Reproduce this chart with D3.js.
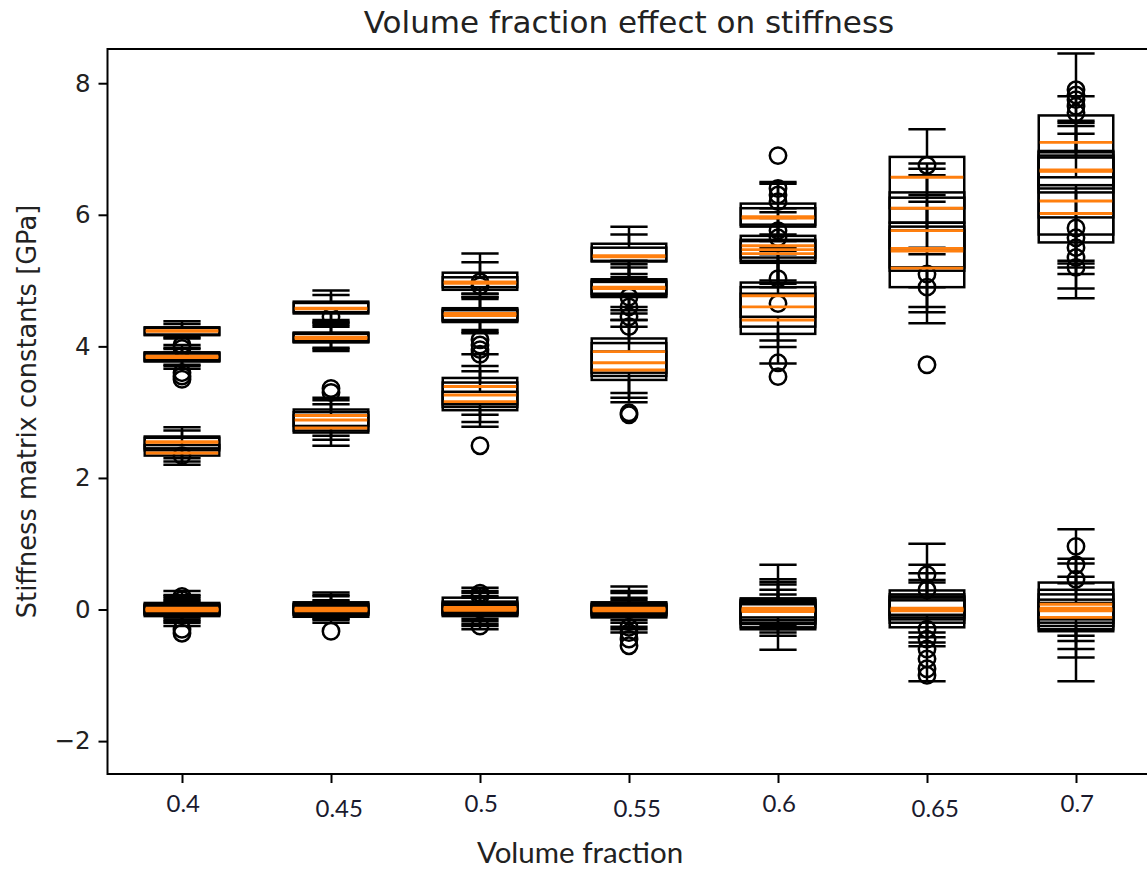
<!DOCTYPE html>
<html>
<head>
<meta charset="utf-8">
<script src="https://cdn.jsdelivr.net/npm/d3@7"></script>
<style>
  body { margin: 0; background: #fff; }
  svg { display: block; }
</style>
</head>
<body>
<div id="chart"></div>
<script>
// tick labels
var vfLabels = ["0.4", "0.45", "0.5", "0.55", "0.6", "0.65", "0.7"];
var yTicks = [-2, 0, 2, 4, 6, 8];

// each box: [whisker low, q1, median, q3, whisker high], values in GPa
var boxes040 = [
  [4.14, 4.17, 4.23, 4.29, 4.38], [4.12, 4.18, 4.24, 4.28, 4.34],
  [3.66, 3.77, 3.83, 3.90, 3.98], [3.70, 3.78, 3.85, 3.91, 4.02], [3.72, 3.79, 3.84, 3.89, 3.96],
  [2.30, 2.45, 2.55, 2.63, 2.77], [2.25, 2.42, 2.54, 2.61, 2.72], [2.20, 2.34, 2.38, 2.50, 2.62],
  [-0.25, -0.10, 0.00, 0.10, 0.28], [-0.15, -0.06, 0.01, 0.06, 0.17], [-0.20, -0.08, -0.01, 0.08, 0.22],
  [-0.12, -0.04, 0.00, 0.04, 0.12], [-0.18, -0.07, 0.02, 0.07, 0.20], [-0.10, -0.05, -0.02, 0.05, 0.14]
];
var fliers040 = [4.02, 3.97, 3.60, 3.55, 3.50, 2.34, 0.20, 0.15, -0.30, -0.36];

var boxes045 = [
  [4.37, 4.50, 4.57, 4.68, 4.85], [4.40, 4.52, 4.58, 4.66, 4.78],
  [3.93, 4.06, 4.13, 4.21, 4.36], [3.96, 4.07, 4.12, 4.19, 4.30], [3.98, 4.08, 4.14, 4.20, 4.33],
  [2.64, 2.79, 2.95, 3.04, 3.22], [2.49, 2.69, 2.76, 2.95, 3.12], [2.58, 2.72, 2.88, 3.00, 3.18],
  [-0.20, -0.11, 0.00, 0.11, 0.26], [-0.16, -0.07, 0.02, 0.08, 0.20], [-0.12, -0.05, -0.01, 0.06, 0.14],
  [-0.14, -0.08, 0.01, 0.09, 0.22], [-0.10, -0.04, -0.02, 0.05, 0.12]
];
var fliers045 = [4.45, 3.36, 3.30, -0.33];

var boxes050 = [
  [4.75, 4.86, 4.98, 5.12, 5.41], [4.80, 4.90, 4.96, 5.05, 5.28],
  [4.20, 4.37, 4.49, 4.58, 4.80], [4.25, 4.40, 4.50, 4.56, 4.75], [4.22, 4.39, 4.47, 4.55, 4.72],
  [2.78, 3.03, 3.16, 3.31, 3.62], [2.96, 3.12, 3.39, 3.52, 3.88], [2.85, 3.08, 3.26, 3.45, 3.70],
  [-0.30, -0.10, 0.02, 0.18, 0.33], [-0.25, -0.08, 0.00, 0.10, 0.25], [-0.18, -0.05, 0.01, 0.06, 0.20],
  [-0.22, -0.07, -0.01, 0.12, 0.28], [-0.14, -0.04, 0.03, 0.08, 0.18]
];
var fliers050 = [4.98, 4.92, 4.10, 4.02, 3.95, 3.88, 2.49, 0.25, 0.20, -0.25];

var boxes055 = [
  [5.05, 5.29, 5.38, 5.56, 5.82], [5.10, 5.30, 5.36, 5.50, 5.70],
  [4.55, 4.75, 4.89, 5.02, 5.30], [4.40, 4.77, 4.88, 4.98, 5.25], [4.60, 4.80, 4.90, 5.00, 5.20],
  [3.15, 3.49, 3.64, 3.92, 4.30], [3.22, 3.55, 3.75, 4.05, 4.40], [3.29, 3.60, 3.92, 4.12, 4.50],
  [-0.35, -0.12, -0.01, 0.11, 0.35], [-0.30, -0.08, 0.00, 0.08, 0.25], [-0.20, -0.05, 0.01, 0.05, 0.18],
  [-0.26, -0.10, 0.02, 0.09, 0.28], [-0.16, -0.06, -0.02, 0.06, 0.15]
];
var fliers055 = [4.75, 4.60, 4.45, 4.30, 2.96, 2.99, -0.27, -0.35, -0.45, -0.55];

var boxes060 = [
  [5.60, 5.82, 5.97, 6.17, 6.50], [5.70, 5.85, 5.95, 6.10, 6.47],
  [4.90, 5.27, 5.41, 5.62, 6.04], [5.00, 5.35, 5.53, 5.68, 6.10], [4.95, 5.30, 5.47, 5.60, 5.95],
  [3.74, 4.19, 4.40, 4.80, 5.40], [3.99, 4.30, 4.60, 4.90, 5.45], [4.09, 4.45, 4.77, 4.97, 5.50],
  [-0.61, -0.30, -0.01, 0.17, 0.68], [-0.40, -0.27, -0.02, 0.15, 0.46], [-0.30, -0.20, 0.00, 0.12, 0.38],
  [-0.25, -0.12, 0.01, 0.10, 0.23], [-0.35, -0.22, 0.02, 0.14, 0.42], [-0.28, -0.16, -0.03, 0.08, 0.30]
];
var fliers060 = [6.90, 6.40, 6.30, 6.20, 5.76, 5.65, 5.03, 4.65, 3.75, 3.54];

var boxes065 = [
  [5.50, 6.10, 6.57, 6.88, 7.30], [5.40, 5.88, 6.10, 6.34, 6.78], [4.90, 5.49, 5.76, 6.26, 6.70],
  [4.60, 5.15, 5.49, 5.88, 6.30], [4.35, 4.90, 5.19, 5.76, 6.20], [4.52, 5.20, 5.45, 5.82, 6.60],
  [-1.09, -0.27, 0.00, 0.29, 1.00], [-0.56, -0.15, 0.01, 0.23, 0.68], [-0.42, -0.08, -0.01, 0.14, 0.41],
  [-0.50, -0.20, 0.02, 0.20, 0.55], [-0.35, -0.12, -0.02, 0.18, 0.45]
];
var fliers065 = [6.75, 5.10, 4.90, 3.72, 0.53, 0.30, -0.30, -0.45, -0.60, -0.75, -0.90, -1.00];

var boxes070 = [
  [5.26, 5.96, 7.10, 7.51, 8.45], [5.10, 6.34, 6.67, 6.97, 7.43], [4.88, 5.58, 6.21, 6.87, 7.80],
  [4.73, 5.70, 6.02, 6.57, 7.23], [5.20, 6.40, 6.68, 6.90, 7.40], [5.30, 6.45, 6.66, 6.95, 7.35],
  [-1.09, -0.33, 0.00, 0.41, 1.22], [-0.73, -0.30, 0.08, 0.23, 0.77], [-0.48, -0.20, -0.12, 0.10, 0.40],
  [-0.60, -0.25, 0.02, 0.30, 0.70], [-0.40, -0.15, -0.02, 0.15, 0.50]
];
var fliers070 = [7.90, 7.82, 7.75, 7.65, 7.55, 5.80, 5.65, 5.50, 5.35, 5.20, 0.96, 0.68, 0.46];

var groups = [
  {boxes: boxes040, fliers: fliers040},
  {boxes: boxes045, fliers: fliers045},
  {boxes: boxes050, fliers: fliers050},
  {boxes: boxes055, fliers: fliers055},
  {boxes: boxes060, fliers: fliers060},
  {boxes: boxes065, fliers: fliers065},
  {boxes: boxes070, fliers: fliers070}
];

var W = 1147, H = 873;
var plot = {left: 107.5, right: 1150.5, top: 49, bottom: 774};
var lw = 2.5;
var black = "#000000", orange = "#ff7f0e";

var svg = d3.select("#chart").append("svg")
    .attr("width", W)
    .attr("height", H);

// matplotlib style: boxes at positions 1..n, xlim [0.5, n + 0.5]
var x = d3.scaleLinear().domain([0.5, groups.length + 0.5]).range([plot.left, plot.right]);
var y = d3.scaleLinear().domain([-2.5, 8.52]).range([plot.bottom, plot.top]);

var boxW = x(1.25) - x(1);   // half box width (width 0.5)
var capW = boxW / 2;

var marks = svg.append("g")
    .attr("fill", "none")
    .attr("stroke-width", lw);
// medians sit above everything else, like matplotlib's zorder + 0.1
var medians = svg.append("g")
    .attr("stroke", orange)
    .attr("stroke-width", 2.9);

groups.forEach(function(g, gi) {
  var cx = x(gi + 1);
  var gg = marks.append("g");
  g.boxes.forEach(function(b) {
    // whiskers
    gg.append("line").attr("x1", cx).attr("x2", cx)
        .attr("y1", y(b[1])).attr("y2", y(b[0])).attr("stroke", black);
    gg.append("line").attr("x1", cx).attr("x2", cx)
        .attr("y1", y(b[3])).attr("y2", y(b[4])).attr("stroke", black);
    // caps
    [b[0], b[4]].forEach(function(v) {
      gg.append("line").attr("x1", cx - capW).attr("x2", cx + capW)
          .attr("y1", y(v)).attr("y2", y(v)).attr("stroke", black);
    });
    // box
    gg.append("rect")
        .attr("x", cx - boxW).attr("width", 2 * boxW)
        .attr("y", y(b[3])).attr("height", y(b[1]) - y(b[3]))
        .attr("stroke", black);
    // median
    medians.append("line").attr("x1", cx - boxW + 1).attr("x2", cx + boxW - 1)
        .attr("y1", y(b[2])).attr("y2", y(b[2]));
  });
  gg.selectAll("circle.flier")
      .data(g.fliers)
      .enter().append("circle")
      .attr("class", "flier")
      .attr("cx", cx)
      .attr("cy", function(d) { return y(d); })
      .attr("r", 8.2)
      .attr("stroke", black);
});

// frame (right spine falls just outside the picture)
svg.append("rect")
    .attr("x", plot.left).attr("y", plot.top)
    .attr("width", plot.right - plot.left).attr("height", plot.bottom - plot.top)
    .attr("fill", "none").attr("stroke", black).attr("stroke-width", 2);

// Y axis
var yAxis = svg.append("g")
    .attr("transform", "translate(" + plot.left + ",0)")
    .call(d3.axisLeft(y).tickValues(yTicks).tickSize(9).tickPadding(8));
yAxis.select(".domain").remove();
yAxis.selectAll(".tick line").attr("stroke", black).attr("stroke-width", 2);
yAxis.selectAll(".tick text")
    .attr("font-family", "DejaVu Sans")
    .attr("font-size", 24.5)
    .attr("fill", "#222");

// X axis
var xAxis = svg.append("g")
    .attr("transform", "translate(0," + plot.bottom + ")")
    .call(d3.axisBottom(x)
      .tickValues(d3.range(1, groups.length + 1))
      .tickSize(9)
      .tickFormat(function(d) { return vfLabels[d - 1]; }));
xAxis.select(".domain").remove();
xAxis.selectAll(".tick line").attr("stroke", black).attr("stroke-width", 2);
xAxis.selectAll(".tick text")
    .attr("font-family", "Lato, 'Open Sans', sans-serif")
    .attr("font-size", 24)
    .attr("fill", "#1a1a2e")
    .attr("text-anchor", "start")
    .attr("x", -16)
    .attr("dy", null)
    .attr("y", function(d, i) { return i % 2 ? 43 : 38; });

// title and axis labels
svg.append("text")
    .attr("x", (plot.left + plot.right) / 2)
    .attr("y", 33)
    .attr("text-anchor", "middle")
    .attr("font-family", "DejaVu Sans")
    .attr("font-size", 31)
    .attr("fill", "#222")
    .text("Volume fraction effect on stiffness");

svg.append("text")
    .attr("transform", "translate(36," + (plot.top + plot.bottom) / 2 + ") rotate(-90)")
    .attr("text-anchor", "middle")
    .attr("font-family", "DejaVu Sans")
    .attr("font-size", 25.7)
    .attr("fill", "#222")
    .text("Stiffness matrix constants [GPa]");

svg.append("text")
    .attr("x", 580)
    .attr("y", 863)
    .attr("text-anchor", "middle")
    .attr("font-family", "Lato, 'Open Sans', sans-serif")
    .attr("font-size", 29.5)
    .attr("fill", "#222")
    .text("Volume fraction");
</script>
</body>
</html>
